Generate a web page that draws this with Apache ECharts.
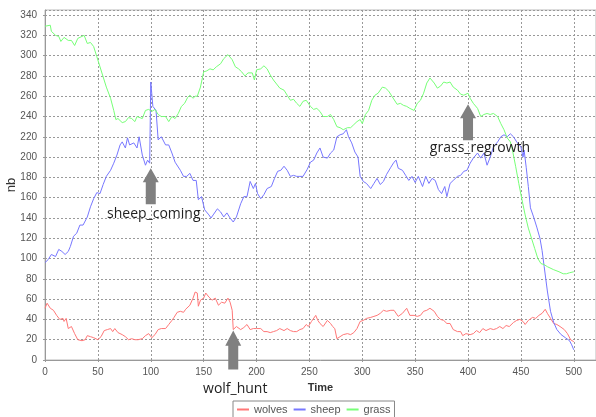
<!DOCTYPE html>
<html lang="en">
<head>
    <meta charset="UTF-8">
    <script src="https://cdn.jsdelivr.net/npm/echarts@6/dist/echarts.min.js"></script>
    <title>wolves sheep grass</title>
    <style>
        body { margin: 0; background: #fff; }
    </style>
</head>
<body>
<div id="main" style="width: 596px;height: 417px"></div>
<script type="text/javascript">
    // [time, nb]
    var wolves = [[0,51],[2,56],[5,51],[8,49],[11,44],[14,40],[17,41],[18,38],[20,41],[22,31],[25,33],[28,26],[31,20],[35,19],[38,20],[40,24],[43,23],[46,22],[50,20],[53,23],[56,29],[59,30],[62,31],[64,28],[66,31],[69,27],[73,25],[76,23],[79,20],[82,21],[85,20],[88,20],[92,21],[95,24],[98,26],[101,22],[104,25],[107,30],[110,31],[114,31],[117,35],[120,39],[122,42],[125,47],[128,48],[131,47],[133,50],[137,54],[140,61],[142,67],[144,66],[145,53],[147,59],[150,61],[152,66],[155,62],[158,59],[161,61],[164,54],[167,57],[170,56],[173,61],[175,57],[177,49],[178,30],[181,33],[185,30],[188,32],[191,35],[194,30],[197,31],[200,31],[204,31],[207,28],[210,28],[213,27],[216,28],[219,29],[222,31],[226,29],[229,31],[232,29],[235,28],[238,28],[241,30],[244,31],[247,35],[249,33],[252,38],[256,44],[258,39],[260,36],[263,33],[267,39],[270,36],[272,33],[274,31],[276,21],[279,23],[282,25],[286,26],[289,25],[292,27],[295,31],[298,38],[301,39],[304,41],[308,42],[311,43],[314,44],[317,46],[320,49],[323,48],[327,49],[330,49],[334,43],[338,46],[342,51],[345,44],[349,44],[352,43],[355,44],[358,48],[361,49],[364,51],[368,48],[371,43],[374,40],[377,39],[380,36],[383,36],[386,30],[390,28],[393,28],[395,24],[398,26],[402,25],[405,26],[408,29],[411,27],[414,31],[417,29],[421,31],[424,30],[427,31],[430,33],[433,31],[436,34],[439,33],[443,37],[446,39],[449,40],[452,38],[454,35],[457,39],[461,42],[464,41],[467,44],[470,46],[473,50],[475,46],[478,41],[481,36],[484,35],[487,33],[491,30],[494,26],[497,20],[500,18]];

    var sheep = [[0,96],[3,99],[6,104],[10,102],[13,109],[16,107],[19,104],[22,107],[24,112],[27,122],[30,125],[33,133],[36,133],[40,141],[43,151],[46,159],[49,165],[52,164],[55,173],[58,181],[62,187],[65,194],[68,202],[71,212],[73,215],[76,209],[78,219],[80,212],[84,214],[87,209],[89,220],[92,202],[95,192],[97,197],[99,194],[100,274],[102,250],[105,246],[107,217],[110,220],[114,212],[117,212],[120,204],[123,195],[128,187],[131,181],[134,181],[137,184],[140,177],[143,177],[145,158],[148,161],[151,148],[155,143],[157,140],[159,143],[163,149],[166,146],[169,141],[172,145],[175,140],[178,136],[181,141],[185,154],[188,161],[191,161],[194,176],[197,169],[199,174],[201,164],[204,159],[207,163],[210,169],[214,171],[217,179],[220,186],[223,187],[226,191],[229,187],[232,181],[235,182],[238,181],[241,181],[244,181],[248,188],[251,195],[254,197],[257,204],[260,209],[263,200],[267,199],[270,204],[273,207],[276,220],[279,222],[282,223],[285,227],[287,220],[290,214],[293,205],[296,200],[298,181],[301,176],[304,174],[308,169],[311,174],[314,179],[317,173],[320,176],[323,183],[327,190],[330,195],[332,197],[334,189],[338,187],[341,182],[344,177],[347,181],[350,175],[353,181],[357,171],[360,181],[363,174],[366,179],[369,177],[372,168],[375,164],[378,171],[380,161],[383,174],[386,177],[390,181],[393,182],[396,186],[399,187],[402,194],[405,199],[409,204],[412,199],[415,204],[418,192],[421,200],[424,210],[428,215],[431,220],[434,222],[437,220],[440,223],[443,220],[446,215],[450,210],[452,200],[453,207],[455,190],[457,171],[459,150],[462,141],[465,131],[468,120],[470,108],[472,92],[475,68],[478,48],[481,37],[484,30],[488,25],[492,22],[496,19],[498,15],[500,10]];

    var grass = [[0,329],[5,330],[6,324],[10,320],[13,319],[15,314],[18,318],[22,315],[25,315],[28,310],[31,317],[35,319],[37,320],[40,312],[43,313],[46,309],[49,299],[52,289],[55,279],[58,269],[62,258],[65,246],[67,237],[69,238],[73,234],[76,235],[79,239],[82,238],[85,235],[87,240],[92,238],[95,246],[98,247],[101,245],[104,247],[107,242],[110,240],[114,240],[117,235],[120,240],[123,238],[126,243],[129,250],[132,253],[135,259],[137,261],[140,258],[142,260],[144,260],[147,269],[150,284],[153,285],[156,287],[159,286],[162,289],[166,292],[169,297],[173,301],[177,296],[180,289],[183,287],[186,284],[189,280],[192,283],[196,283],[198,276],[200,286],[204,287],[207,290],[210,287],[213,281],[216,276],[219,272],[222,268],[226,266],[229,261],[232,256],[235,257],[238,253],[241,250],[244,255],[247,256],[251,250],[254,247],[257,248],[260,245],[263,240],[267,240],[270,242],[273,237],[276,230],[279,229],[282,227],[286,229],[289,229],[292,232],[295,235],[298,237],[300,233],[303,242],[306,246],[309,256],[312,261],[315,263],[319,269],[322,268],[325,265],[328,260],[333,252],[336,253],[339,251],[342,250],[345,248],[349,246],[352,253],[355,256],[358,263],[361,273],[364,278],[368,273],[371,268],[374,270],[377,274],[380,273],[383,274],[386,269],[390,266],[393,262],[396,261],[400,263],[402,258],[405,253],[409,248],[412,240],[415,242],[418,243],[421,242],[424,243],[428,240],[431,233],[434,227],[437,219],[440,215],[442,207],[445,191],[448,174],[451,158],[454,143],[457,130],[460,120],[463,110],[466,100],[469,95],[472,94],[475,92],[481,89],[486,87],[490,85],[493,85],[496,86],[500,87]];

    // annotations: [label, time, nb at arrow tip]
    var notes = [
        ["sheep_coming", 100, 189],
        ["grass_regrowth", 400, 252],
        ["wolf_hunt", 178, 29]
    ];
    var noteOffsets = [[3, 28], [12, 26], [2, 39]];
    var noteLengths = [36, 36, 39];

    var arrowPath = 'path://M8,0 L16,14 L13,14 L13,36 L3,36 L3,14 L0,14 Z';

    var myChart = echarts.init(document.getElementById("main"));

    var tickFont = {color: '#555', fontSize: 10, fontFamily: 'Liberation Sans'};

    myChart.setOption({
        animation: false,
        backgroundColor: '#fff',
        grid: {
            left: 45, right: 0, top: 10, bottom: 57,
            outerBoundsMode: 'none',
            containLabel: false,
            show: true, borderColor: '#bbb', borderWidth: 1
        },
        legend: {
            left: 233, top: 401,
            data: ['wolves', 'sheep', 'grass'],
            icon: 'rect',
            itemWidth: 12, itemHeight: 2, itemGap: 6,
            padding: [3, 4, 8, 4],
            borderColor: '#888', borderWidth: 1,
            textStyle: {color: '#555', fontSize: 11, fontFamily: 'Liberation Sans'}
        },
        xAxis: {
            type: 'value',
            min: 0, max: 521, interval: 50,
            name: 'Time', nameLocation: 'middle', nameGap: 22,
            nameMoveOverlap: false,
            nameTextStyle: {color: '#333', fontSize: 11, fontWeight: 'bold', fontFamily: 'Liberation Sans'},
            axisLine: {show: true, lineStyle: {color: '#999'}},
            axisTick: {show: true, length: 2, lineStyle: {color: '#999'}},
            axisLabel: Object.assign({margin: 7, showMaxLabel: false}, tickFont),
            splitLine: {show: true, lineStyle: {color: '#999', type: [2, 2]}}
        },
        yAxis: {
            type: 'value',
            min: 0, max: 345, interval: 20,
            name: 'nb', nameLocation: 'middle', nameGap: 27, nameRotate: 90,
            nameMoveOverlap: false,
            nameTextStyle: {color: '#333', fontSize: 13, fontFamily: 'Liberation Sans'},
            axisLine: {show: true, lineStyle: {color: '#999'}},
            axisTick: {show: true, length: 2, lineStyle: {color: '#999'}},
            axisLabel: Object.assign({margin: 8, showMaxLabel: false}, tickFont),
            splitLine: {show: true, lineStyle: {color: '#999', type: [2, 2]}}
        },
        series: [
            {
                name: 'wolves', type: 'line', data: wolves,
                showSymbol: false, symbol: 'none',
                color: '#ff7777', lineStyle: {width: 1, color: '#ff7777'}
            },
            {
                name: 'sheep', type: 'line', data: sheep,
                showSymbol: false, symbol: 'none',
                color: '#7777ff', lineStyle: {width: 1, color: '#7777ff'}
            },
            {
                name: 'grass', type: 'line', data: grass,
                showSymbol: false, symbol: 'none',
                color: '#77ff77', lineStyle: {width: 1, color: '#77ff77'},
                markPoint: {
                    silent: true,
                    data: notes.map(function (n, i) {
                        return {
                            name: n[0],
                            coord: [n[1], n[2]],
                            symbol: arrowPath,
                            symbolSize: [16, noteLengths[i]],
                            symbolOffset: [0, '50%'],
                            itemStyle: {color: '#808080'},
                            label: {
                                show: true, position: 'inside',
                                offset: noteOffsets[i],
                                formatter: n[0],
                                color: '#222', fontSize: 14, fontFamily: 'Open Sans'
                            }
                        };
                    })
                }
            }
        ]
    });
</script>
</body>
</html>
